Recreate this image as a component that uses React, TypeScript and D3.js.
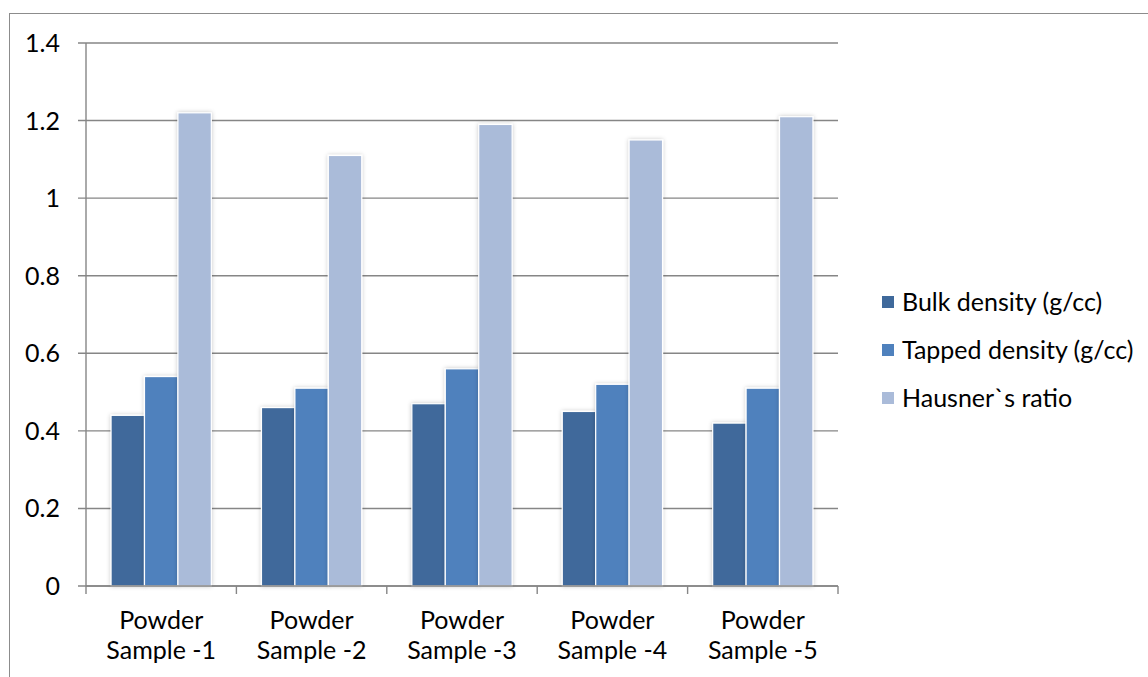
import * as d3 from "d3";

const categories = [
  ["Powder", "Sample -1"],
  ["Powder", "Sample -2"],
  ["Powder", "Sample -3"],
  ["Powder", "Sample -4"],
  ["Powder", "Sample -5"],
];
const seriesNames = ["Bulk density (g/cc)", "Tapped density (g/cc)", "Hausner`s ratio"];
const bulkDensity = [0.44, 0.46, 0.47, 0.45, 0.42];
const tappedDensity = [0.54, 0.51, 0.56, 0.52, 0.51];
const hausnerRatio = [1.22, 1.11, 1.19, 1.15, 1.21];
const yTicks = [0, 0.2, 0.4, 0.6, 0.8, 1, 1.2, 1.4];
const colors = ["#3f699b", "#4f81bd", "#aabbd9"];

const font = "Lato, 'Noto Sans', sans-serif";

export default function App() {
  const width = 1148;
  const height = 677;
  const left = 86;
  const right = 838;
  const top = 43;
  const bottom = 586;

  const series = [bulkDensity, tappedDensity, hausnerRatio];
  const keys = categories.map((c) => c.join(" "));

  const x = d3.scaleBand().domain(keys).range([left, right]);
  const barW = x.bandwidth() / 4.5;
  const inner = d3
    .scaleBand()
    .domain(seriesNames)
    .range([0, barW * 3]);
  const offset = (x.bandwidth() - barW * 3) / 2;

  const y = d3.scaleLinear().domain([0, 1.4]).range([bottom, top]);

  const grid = "#868686";

  return (
    <svg
      width={width}
      height={height}
      style={{ position: "absolute", left: 0, top: 0, background: "#fff" }}
      fontFamily={font}
    >
      <defs>
        <filter id="shadow" x="-30%" y="-10%" width="160%" height="120%">
          <feDropShadow dx="0" dy="0" stdDeviation="2" floodColor="#000" floodOpacity="0.22" />
        </filter>
      </defs>
      {/* outer chart border */}
      <rect x={9.5} y={13.5} width={1160} height={700} fill="none" stroke="#8c8c8c" strokeWidth={1} />

      {/* gridlines + y ticks */}
      {yTicks.map((t) => (
        <g key={t}>
          <line x1={left - 8} x2={right} y1={y(t)} y2={y(t)} stroke={grid} strokeWidth={1.4} />
          <text x={60} y={y(t) + 9} textAnchor="end" fontSize={25} fill="#000">
            {d3.format("~g")(t)}
          </text>
        </g>
      ))}

      {/* y axis */}
      <line x1={left} x2={left} y1={top} y2={bottom} stroke={grid} strokeWidth={1.4} />

      {/* bars */}
      {keys.map((k, i) => (
        <g key={k}>
          {series.map((s, j) => (
            <rect
              key={j}
              x={x(k)! + offset + inner(seriesNames[j])!}
              y={y(s[i])}
              width={inner.bandwidth()}
              height={bottom - y(s[i])}
              fill={colors[j]}
              stroke="#fff"
              strokeWidth={1.2}
              filter="url(#shadow)"
            />
          ))}
        </g>
      ))}

      {/* x axis */}
      <line x1={left} x2={right} y1={bottom} y2={bottom} stroke={grid} strokeWidth={1.4} />
      {[...keys.map((k) => x(k)!), right].map((tx, i) => (
        <line key={i} x1={tx} x2={tx} y1={bottom} y2={bottom + 8} stroke={grid} strokeWidth={1.4} />
      ))}
      {categories.map((c, i) => (
        <text
          key={i}
          x={x(keys[i])! + x.bandwidth() / 2}
          textAnchor="middle"
          fontSize={25}
          fill="#000"
        >
          <tspan x={x(keys[i])! + x.bandwidth() / 2} y={629}>
            {c[0]}
          </tspan>
          <tspan x={x(keys[i])! + x.bandwidth() / 2} y={659}>
            {c[1]}
          </tspan>
        </text>
      ))}

      {/* legend */}
      {seriesNames.map((n, j) => (
        <g key={n} transform={`translate(882, ${302 + j * 48})`}>
          <rect x={0} y={-6} width={12} height={12} fill={colors[j]} />
          <text x={20} y={9} fontSize={25} fill="#000">
            {n}
          </text>
        </g>
      ))}
    </svg>
  );
}
